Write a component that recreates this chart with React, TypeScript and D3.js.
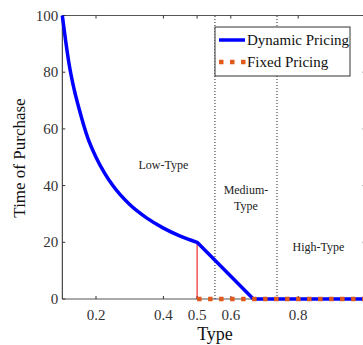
import React from "react";
import * as d3 from "d3";

const dynamicX = [0.1, 0.11, 0.12, 0.135, 0.15, 0.175, 0.2, 0.225, 0.25, 0.3, 0.35, 0.4, 0.45, 0.5, 0.667, 0.8, 1.0];
const dynamicY = [100, 91, 83, 74, 67, 57, 50, 44.5, 40, 33.3, 28.6, 25, 22.2, 20, 0, 0, 0];
const fixedX = [0.5, 1.0];
const fixedY = [0, 0];
const xTicks = [0.2, 0.4, 0.5, 0.6, 0.8];
const yTicks = [0, 20, 40, 60, 80, 100];
const thresholds = [0.553, 0.737];
const regionLabels = [
  { lines: ["Low-Type"], x: 0.4, y: 46 },
  { lines: ["Medium-", "Type"], x: 0.645, y: 37 },
  { lines: ["High-Type"], x: 0.86, y: 17 },
];

export default function App() {
  const W = 363, H = 345;
  const x = d3.scaleLinear().domain([0.1, 1.0]).range([62.3, 365.6]);
  const y = d3.scaleLinear().domain([0, 100]).range([299, 15.5]);
  const font = "Liberation Serif";
  const curveIdx = dynamicX.map((_, i) => i);
  const seg1 = curveIdx.filter((i) => dynamicX[i] <= 0.5);
  const seg2 = curveIdx.filter((i) => dynamicX[i] >= 0.5);
  const smooth = d3.line<number>().x((i) => x(dynamicX[i])).y((i) => y(dynamicY[i])).curve(d3.curveMonotoneX);
  const straight = d3.line<number>().x((i) => x(dynamicX[i])).y((i) => y(dynamicY[i]));
  const fixedLine = d3.line<number>().x((d, i) => x(fixedX[i])).y((d) => y(d));

  return (
    <svg width={W} height={H} style={{ position: "absolute", left: 0, top: 0, background: "#fff", fontFamily: font }}>
      <line x1={x(0.1)} x2={x(1.0)} y1={y(0)} y2={y(0)} stroke="#555" strokeWidth={1} />
      <line x1={x(0.1)} x2={x(1.0)} y1={y(100)} y2={y(100)} stroke="#555" strokeWidth={1} />
      <line x1={x(0.1)} x2={x(0.1)} y1={y(0)} y2={y(100)} stroke="#222" strokeWidth={1} />
      <line x1={x(1.0)} x2={x(1.0)} y1={y(0)} y2={y(100)} stroke="#555" strokeWidth={1} />
      {xTicks.map((t) => (
        <g key={"xt" + t}>
          <line x1={x(t)} x2={x(t)} y1={y(0)} y2={y(0) - 3} stroke="#333" />
          <line x1={x(t)} x2={x(t)} y1={y(100)} y2={y(100) + 3} stroke="#333" />
          <text x={x(t)} y={y(0) + 21} textAnchor="middle" fontSize={15} fill="#333">
            {String(t)}
          </text>
        </g>
      ))}
      {yTicks.map((t) => (
        <g key={"yt" + t}>
          <line x1={x(0.1)} x2={x(0.1) + 3} y1={y(t)} y2={y(t)} stroke="#333" />
          <line x1={x(1.0)} x2={x(1.0) - 3} y1={y(t)} y2={y(t)} stroke="#333" />
          <text x={x(0.1) - 4} y={y(t) + 5} textAnchor="end" fontSize={15} fill="#333">
            {String(t)}
          </text>
        </g>
      ))}
      {thresholds.map((t) => (
        <line key={"th" + t} x1={x(t)} x2={x(t)} y1={y(0)} y2={y(100)} stroke="#222" strokeWidth={1} strokeDasharray="1,2" />
      ))}
      <line x1={x(0.5)} x2={x(0.5)} y1={y(0)} y2={y(20)} stroke="#e00" strokeWidth={1} />
      <path d={(smooth(seg1) || "") + (straight(seg2) || "").replace(/^M/, "L")} fill="none" stroke="#0000ff" strokeWidth={3.5} strokeLinejoin="round" />
      <path d={fixedLine(fixedY) || ""} fill="none" stroke="#e05a1c" strokeWidth={4.5} strokeDasharray="4.5,6.5" />
      {regionLabels.map((r, i) => (
        <text key={"rl" + i} x={x(r.x)} y={y(r.y)} textAnchor="middle" fontSize={12} fill="#222">
          {r.lines.map((l, j) => (
            <tspan key={j} x={x(r.x)} dy={j === 0 ? 0 : 16}>{l}</tspan>
          ))}
        </text>
      ))}
      <rect x={215} y={27} width={135} height={49} fill="#fff" stroke="#333" strokeWidth={1} />
      <line x1={219} x2={245} y1={40} y2={40} stroke="#0000ff" strokeWidth={3.5} />
      <line x1={219} x2={246} y1={62} y2={62} stroke="#e05a1c" strokeWidth={4.5} strokeDasharray="4.5,6.5" />
      <text x={247} y={45} fontSize={15} fill="#111">Dynamic Pricing</text>
      <text x={247} y={67} fontSize={15} fill="#111">Fixed Pricing</text>
      <text x={215} y={340} textAnchor="middle" fontSize={18} fill="#111">Type</text>
      <text transform={`translate(25,${158}) rotate(-90)`} textAnchor="middle" fontSize={17} fill="#111">
        Time of Purchase
      </text>
    </svg>
  );
}
